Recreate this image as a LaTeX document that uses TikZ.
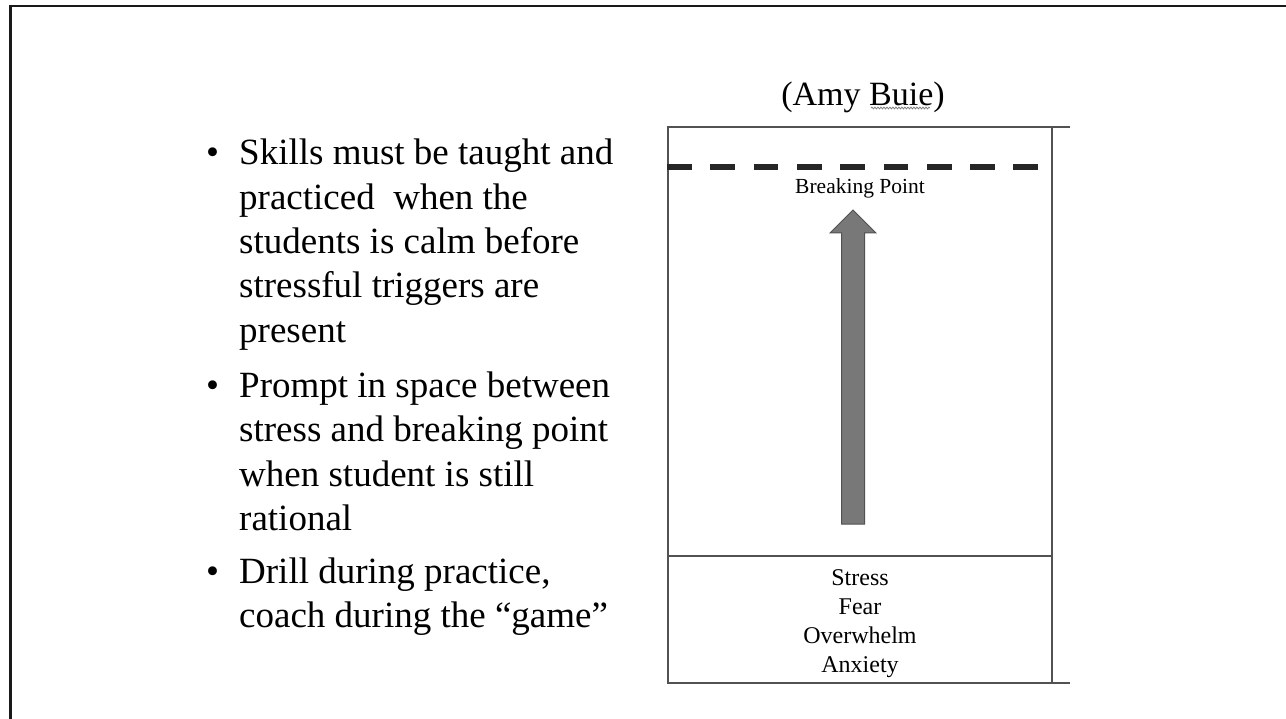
\documentclass[tikz,border=0pt]{standalone}
\usepackage{fontspec}
\setmainfont{Liberation Serif}
\usetikzlibrary{decorations.pathmorphing}
\begin{document}
\begin{tikzpicture}[x=1pt,y=-1pt,
  frame/.style={draw=black!90, line width=2.3pt, line join=miter},
  boxline/.style={draw=black!68, line width=1.3pt},
  dashline/.style={draw=black!85, line width=6pt, dash pattern=on 24.7pt off 18.6pt},
  blockarrow/.style={fill=black!53, draw=black!68, line width=1pt},
  bodytext/.style={anchor=base west, inner sep=0pt, font=\fontsize{37}{44}\selectfont},
  bul/.style={anchor=base, inner sep=0pt, font=\fontsize{37}{44}\selectfont},
  titletext/.style={anchor=base, inner sep=0pt, font=\fontsize{34}{40}\selectfont},
  smalltext/.style={anchor=base, inner sep=0pt, font=\fontsize{21.5}{26}\selectfont},
  listtext/.style={anchor=base, inner sep=0pt, font=\fontsize{24}{29}\selectfont},
  squiggle/.style={draw=black!50, line width=0.8pt, decorate, decoration={snake, amplitude=0.9pt, segment length=3pt}}
]
\useasboundingbox (0,0) rectangle (1286,719);

% outer frame
\coordinate (f1) at (10.5,719);
\coordinate (f2) at (10.5,6.2);
\coordinate (f3) at (1286,6.2);
\draw[frame] (f1) -- (f2) -- (f3);

% bullet text
\node[bul] (b1) at (212.5,165) {\textbullet};
\node[bodytext] (l1) at (239,165) {Skills must be taught and};
\node[bodytext] (l2) at (239,209.3) {practiced\ \ when the};
\node[bodytext] (l3) at (239,253.6) {students is calm before};
\node[bodytext] (l4) at (239,297.9) {stressful triggers are};
\node[bodytext] (l5) at (239,342.2) {present};
\node[bul] (b2) at (212.5,397.5) {\textbullet};
\node[bodytext] (l6) at (239,397.5) {Prompt in space between};
\node[bodytext] (l7) at (239,441.8) {stress and breaking point};
\node[bodytext] (l8) at (239,486.1) {when student is still};
\node[bodytext] (l9) at (239,530.4) {rational};
\node[bul] (b3) at (212.5,583) {\textbullet};
\node[bodytext] (l10) at (239,583) {Drill during practice,};
\node[bodytext] (l11) at (239,627.3) {coach during the “game”};

% title
\node[titletext] (title) at (863,105.5) {(Amy Buie)};
\coordinate (sq1) at (871,108);
\coordinate (sq2) at (930,108);
\draw[squiggle] (sq1) -- (sq2);

% diagram box
\coordinate (bTL) at (668,127);
\coordinate (bTR) at (1052,127);
\coordinate (bTE) at (1070,127);
\coordinate (bBL) at (668,683);
\coordinate (bBR) at (1052,683);
\coordinate (bBE) at (1070,683);
\coordinate (dL) at (668,556);
\coordinate (dR) at (1052,556);
\draw[boxline] (bTE) -- (bTL) -- (bBL) -- (bBE);
\draw[boxline] (bTR) -- (bBR);
\draw[boxline] (dL) -- (dR);

% breaking point dashed line
\coordinate (bp1) at (667,167);
\coordinate (bp2) at (1038.5,167);
\draw[dashline] (bp1) -- (bp2);
\node[smalltext] (bp) at (860,193.3) {Breaking Point};

% block arrow
\draw[blockarrow] (853,210) -- (876,233) -- (864.5,233) -- (864.5,524) -- (841.5,524) -- (841.5,233) -- (830,233) -- cycle;

% stress list
\node[listtext] (s1) at (860,585) {Stress};
\node[listtext] (s2) at (860,614.3) {Fear};
\node[listtext] (s3) at (860,643.3) {Overwhelm};
\node[listtext] (s4) at (860,672.3) {Anxiety};
\end{tikzpicture}
\end{document}
